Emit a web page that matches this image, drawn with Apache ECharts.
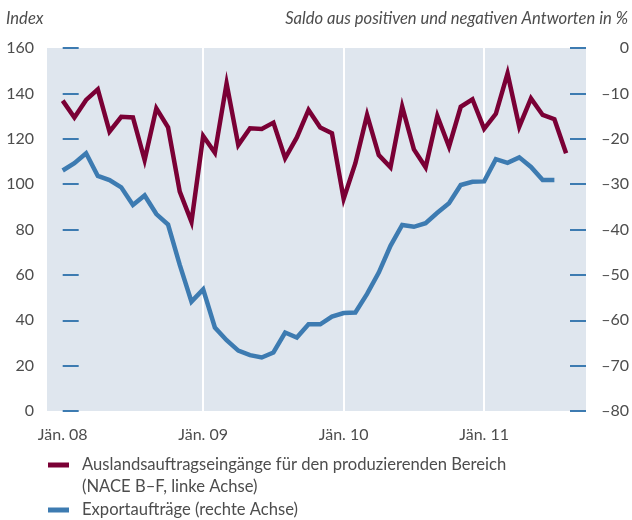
<!DOCTYPE html>
<html>
<head>
<meta charset="utf-8">
<script src="https://cdn.jsdelivr.net/npm/echarts@6/dist/echarts.min.js"></script>
<style>
html,body{margin:0;padding:0;background:#fff;}
#c{width:632px;height:520px;}
</style>
</head>
<body>
<div id="c"></div>
<script>
// month index: 0 = Jän. 08
const tickPositions = [0, 12, 24, 36];
const tickLabels = ["Jän. 08", "Jän. 09", "Jän. 10", "Jän. 11"];
const nameRed = "Auslandsauftragseingänge für den produzierenden Bereich";
const nameRed2 = "(NACE B–F, linke Achse)";
const nameBlue = "Exportaufträge (rechte Achse)";
// Index (left axis)
const redValues = [136.8, 129.4, 137.1, 141.8, 123.1, 129.7, 129.4, 110.6, 133.4, 125.0, 96.7, 83.4,
  121.2, 113.8, 144.4, 117.2, 124.6, 124.3, 127.1, 111.4, 120.6, 132.7, 125.0, 122.4,
  93.5, 109.2, 130.5, 112.8, 107.4, 134.1, 115.3, 107.4, 130.0, 116.5, 134.1, 137.4,
  124.4, 131.0, 148.8, 125.3, 137.8, 130.5, 128.6, 113.6];
// Saldo in % (right axis)
const blueValues = [-27.0, -25.4, -23.2, -28.2, -29.1, -30.7, -34.6, -32.5, -36.6, -38.9, -47.8, -55.9,
  -53.2, -61.6, -64.4, -66.7, -67.7, -68.2, -67.1, -62.7, -63.8, -60.9, -60.9, -59.2,
  -58.4, -58.3, -54.2, -49.5, -43.6, -39.0, -39.4, -38.6, -36.3, -34.2, -30.2, -29.5,
  -29.4, -24.5, -25.3, -24.1, -26.2, -29.1, -29.1];

const FONT = 'Lato';
const TXT = '#4d4d4d';
const RED = '#7a0035';
const BLUE = '#3d7bb1';

const chart = echarts.init(document.getElementById('c'), null, {renderer: 'canvas'});
const labelMap = {};
tickPositions.forEach((p, i) => labelMap[p] = tickLabels[i]);

const yTick = {show: true, inside: true, length: 16, lineStyle: {color: BLUE, width: 2}};

chart.setOption({
  animation: false,
  textStyle: {fontFamily: FONT},
  grid: {left: 47, right: 46, top: 48, bottom: 109, show: true, backgroundColor: '#dfe6ee', borderWidth: 0},
  xAxis: {
    type: 'value', min: -1.34, max: 44.7,
    axisLine: {show: false}, axisTick: {show: false}, splitLine: {show: false},
    axisLabel: {
      customValues: tickPositions, margin: 16, color: TXT, fontSize: 16, fontFamily: FONT,
      formatter: v => labelMap[Math.round(v)] || ''
    }
  },
  yAxis: [
    {type: 'value', min: 0, max: 160, interval: 20, position: 'left',
     axisLine: {show: false}, axisTick: yTick, splitLine: {show: false},
     axisLabel: {margin: 13, color: TXT, fontSize: 16, fontFamily: FONT}},
    {type: 'value', min: -80, max: 0, interval: 10, position: 'right',
     axisLine: {show: false}, axisTick: yTick, splitLine: {show: false},
     axisLabel: {margin: 43, align: 'right', color: TXT, fontSize: 16, fontFamily: FONT,
       formatter: v => String(v).replace('-', '–')}}
  ],
  legend: [
    {left: 48, top: 455, padding: 0, itemWidth: 21, itemHeight: 5, icon: 'rect',
     data: [nameRed], textStyle: {color: TXT, fontSize: 16.6, fontFamily: FONT, lineHeight: 20, padding: [0,0,0,8]}},
    {left: 48, top: 500, padding: 0, itemWidth: 21, itemHeight: 5, icon: 'rect',
     data: [nameBlue], textStyle: {color: TXT, fontSize: 16.6, fontFamily: FONT, lineHeight: 20, padding: [0,0,0,8]}}
  ],
  graphic: [
    {type: 'text', left: 6, top: 10, style: {text: 'Index', fill: TXT, font: 'italic 16.6px ' + FONT}},
    {type: 'text', right: 4, top: 10, style: {text: 'Saldo aus positiven und negativen Antworten in %', fill: TXT, font: 'italic 16.6px ' + FONT}},
    {type: 'text', left: 82, top: 478, style: {text: nameRed2, fill: TXT, font: '16.6px ' + FONT}}
  ],
  series: [
    {type: 'line', z: 1, data: [[0, null]], symbol: 'none', silent: true,
     markLine: {silent: true, z: 1, symbol: 'none', label: {show: false},
       lineStyle: {color: '#ffffff', width: 2, type: 'solid'},
       data: tickPositions.slice(1).map(p => ({xAxis: p}))}},
    {name: nameRed, type: 'line', yAxisIndex: 0, z: 3, symbol: 'none',
     data: redValues.map((v, i) => [i, v]),
     lineStyle: {color: RED, width: 4.5, join: 'miter'}, itemStyle: {color: RED}},
    {name: nameBlue, type: 'line', yAxisIndex: 1, z: 3, symbol: 'none',
     data: blueValues.map((v, i) => [i, v]),
     lineStyle: {color: BLUE, width: 4.5, join: 'miter'}, itemStyle: {color: BLUE}}
  ]
});
</script>
</body>
</html>
